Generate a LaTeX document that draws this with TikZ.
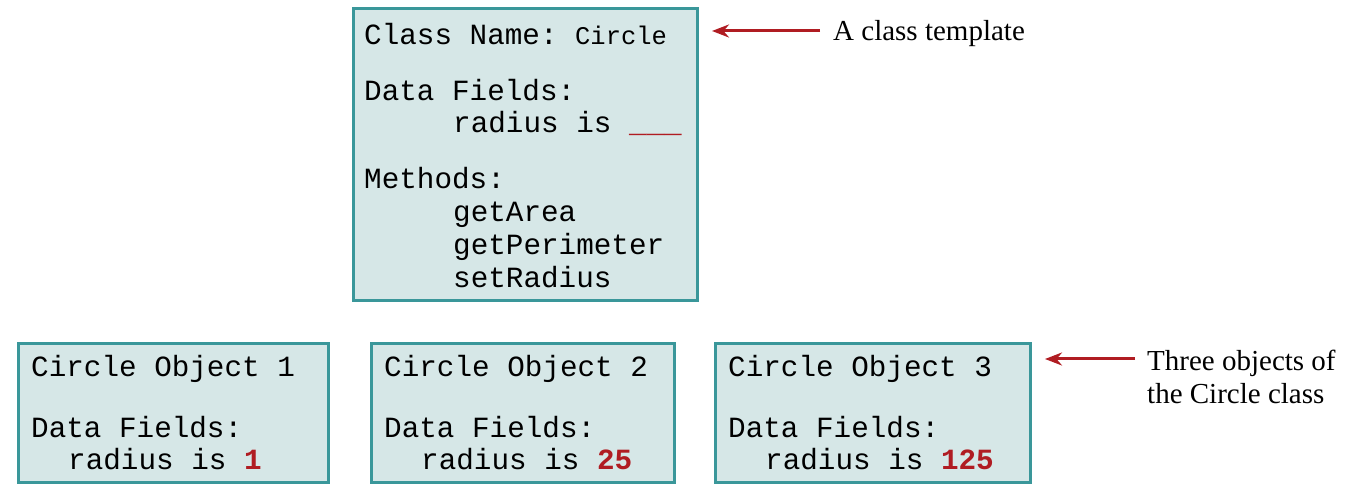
\documentclass[tikz,border=0pt]{standalone}
\usepackage{fontspec}
\setmainfont{Liberation Serif}
\setmonofont{Liberation Mono}
\usepackage{xcolor}
\usepackage{tikz}
\usetikzlibrary{arrows.meta}
\definecolor{boxfill}{HTML}{D6E7E7}
\definecolor{boxline}{HTML}{3A979A}
\definecolor{fieldred}{HTML}{B01C22}
\tikzset{
	clsbox/.style={draw=boxline, line width=3pt, fill=boxfill, inner sep=0pt, outer sep=0pt, anchor=north west},
	code/.style={anchor=base west, inner sep=0pt, font=\fontsize{29.3}{33}\selectfont\ttfamily},
	note/.style={inner sep=0pt, align=left, font=\fontsize{29}{33}\selectfont},
	pointer/.style={draw=fieldred, line width=3pt, -{Stealth[length=17pt, width=13pt]}},
}

\begin{document}
\begin{tikzpicture}[x=1pt, y=-1pt]
		\useasboundingbox (0,0) rectangle (1350,494);

		% the class template
		\node[clsbox, minimum width=344pt, minimum height=292pt] (cls) at (353.5,8.5) {};
		\node[code] (clsname) at (364,45) {Class Name: {\fontsize{25.5}{30}\selectfont Circle}};
		\node[code] (clsdata) at (364,101) {Data Fields:};
		\node[code] (clsrad) at (453,133) {radius is \textcolor{fieldred}{\_\_\_}};
		\node[code] (clsmeth) at (364,189) {Methods:};
		\foreach \m/\y in {getArea/222, getPerimeter/255, setRadius/288}
			\node[code] (\m) at (453,\y) {\m};

		% the three objects
		\foreach \i/\x/\w/\r in {1/18.5/310/1, 2/371.5/303/25, 3/715.5/315/125} {
			\node[clsbox, minimum width=\w pt, minimum height=139pt] (obj\i) at (\x,343.5) {};
			\node[code] (objname\i) at (\x+12.5,377) {Circle Object \i};
			\node[code] (objdata\i) at (\x+12.5,437) {Data Fields:};
			\node[code] (objrad\i) at (\x+49.5,469) {radius is \textcolor{fieldred}{\bfseries\r}};
		}

		\node[note, anchor=west] (tmpl) at (833,34) {A class template};
		\coordinate (tmpltail) at (820,31);
		\draw[pointer, shorten >=14.5pt] (tmpltail) -- (cls.east |- tmpltail);

		\node[note, anchor=north west] (objs) at (1147,350) {Three objects of\\the Circle class};
		\coordinate (objtail) at (1135,359);
		\draw[pointer, shorten >=14.5pt] (objtail) -- (obj3.east |- objtail);
	\end{tikzpicture}
\end{document}
